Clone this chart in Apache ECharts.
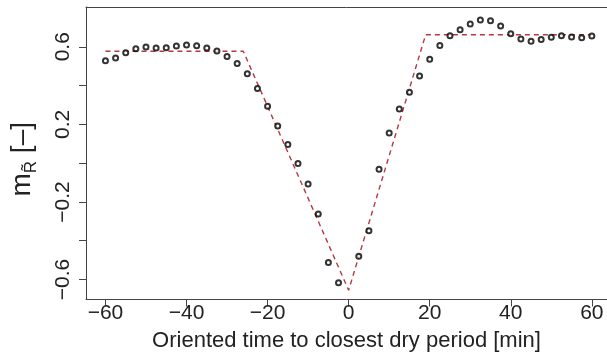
<!DOCTYPE html>
<html>
<head>
<meta charset="utf-8">
<script src="https://cdn.jsdelivr.net/npm/echarts@6/dist/echarts.min.js"></script>
<style>
  html, body { margin: 0; padding: 0; background: #fff; }
  #chart { width: 607px; height: 363px; }
</style>
</head>
<body>
<div id="chart"></div>
<script>
// observed points (every 2.5 min, none at 0)
const times = [-60, -57.5, -55, -52.5, -50, -47.5, -45, -42.5, -40, -37.5, -35, -32.5,
  -30, -27.5, -25, -22.5, -20, -17.5, -15, -12.5, -10, -7.5, -5, -2.5,
  2.5, 5, 7.5, 10, 12.5, 15, 17.5, 20, 22.5, 25, 27.5, 30, 32.5, 35,
  37.5, 40, 42.5, 45, 47.5, 50, 52.5, 55, 57.5, 60];
const values = [0.528, 0.542, 0.569, 0.590, 0.599, 0.593, 0.595, 0.604, 0.609, 0.605, 0.593, 0.578,
  0.550, 0.514, 0.461, 0.385, 0.293, 0.192, 0.096, -0.002, -0.108, -0.262, -0.512, -0.616,
  -0.480, -0.349, -0.031, 0.156, 0.279, 0.365, 0.449, 0.535, 0.607, 0.657, 0.688, 0.718, 0.738, 0.734,
  0.707, 0.667, 0.640, 0.628, 0.638, 0.649, 0.657, 0.650, 0.647, 0.655];

// piecewise linear fit (dashed)
const fitX = [-60, -26, 0, 19, 60];
const fitY = [0.577, 0.577, -0.655, 0.662, 0.662];

const xTicks = [-60, -40, -20, 0, 20, 40, 60];
const yTicks = [-0.6, -0.4, -0.2, 0, 0.2, 0.4, 0.6];
const yLabels = [-0.6, -0.2, 0.2, 0.6];

const font = 'Liberation Sans, Arial, sans-serif';
const minus = v => String(v).replace('-', '\u2212');
const boxLine = { show: true, onZero: false, lineStyle: { color: '#444', width: 1 } };

const chart = echarts.init(document.getElementById('chart'));
chart.setOption({
  backgroundColor: '#fff',
  animation: false,
  grid: { left: 83.5, right: 0, top: 7, bottom: 63.5 },
  xAxis: [{
    type: 'value',
    min: -64.8, max: 63.74,
    axisLine: boxLine,
    splitLine: { show: false },
    axisTick: { show: true, length: 7, customValues: xTicks, lineStyle: { color: '#444' } },
    axisLabel: {
      customValues: xTicks, margin: 3, color: '#222',
      fontFamily: font, fontSize: 21, formatter: minus
    },
    name: 'Oriented time to closest dry period [min]',
    nameLocation: 'middle', nameGap: 30,
    nameTextStyle: { fontFamily: font, fontSize: 22, color: '#222' }
  }, {
    // top edge of the box
    type: 'value', position: 'top',
    min: -64.8, max: 63.74,
    axisLine: boxLine,
    axisTick: { show: false }, axisLabel: { show: false }, splitLine: { show: false }
  }],
  yAxis: {
    type: 'value',
    min: -0.703, max: 0.805,
    axisLine: boxLine,
    splitLine: { show: false },
    axisTick: { show: true, length: 7, customValues: yTicks, lineStyle: { color: '#444' } },
    axisLabel: {
      customValues: yLabels, rotate: 90, margin: 12, color: '#222',
      fontFamily: font, fontSize: 21, formatter: minus
    },
    name: '{m|m}{s|R\u0303}{m| [\u2013]}',
    nameLocation: 'middle', nameGap: 46, nameRotate: 90,
    nameTextStyle: {
      fontFamily: font, color: '#222', padding: [0, 12, 0, 0],
      rich: {
        m: { fontFamily: font, fontSize: 28, color: '#222', verticalAlign: 'bottom', padding: [0, 0, 4, 0] },
        s: { fontFamily: font, fontSize: 17, color: '#222', verticalAlign: 'bottom' }
      }
    }
  },
  series: [
    {
      type: 'line',
      data: fitX.map((x, i) => [x, fitY[i]]),
      showSymbol: false,
      lineStyle: { color: '#b5393f', width: 1.4, type: [5, 4] },
      z: 1
    },
    {
      type: 'scatter',
      data: times.map((t, i) => [t, values[i]]),
      symbol: 'emptyCircle',
      symbolSize: 5,
      itemStyle: { color: '#000', borderColor: '#000', borderWidth: 1.5 },
      z: 2
    }
  ]
});
</script>
</body>
</html>
